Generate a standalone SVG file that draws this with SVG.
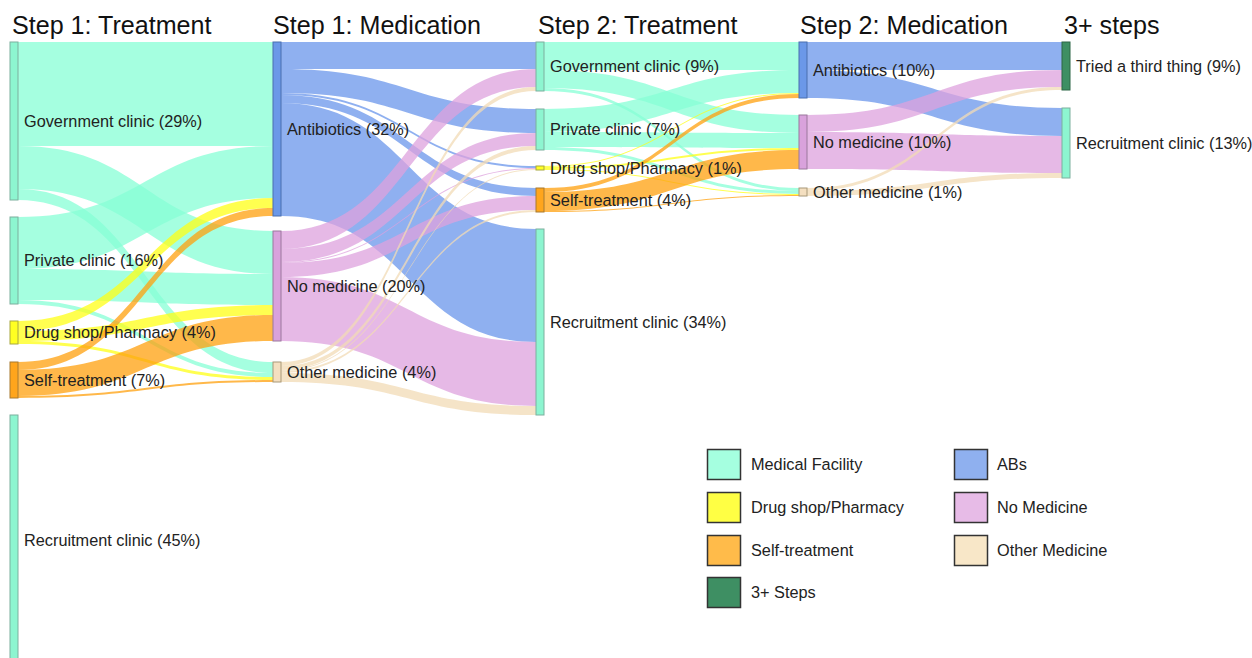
<svg xmlns="http://www.w3.org/2000/svg" width="1252" height="658" viewBox="0 0 1252 658">
<style>
text{font-family:"Liberation Sans",Arial,sans-serif;fill:#222}
.h{font-size:25.1px;fill:#111}
.l{font-size:16.3px}
.lk{fill-opacity:0.75;stroke:none}
.mf{fill:#87FFD6}.dp{fill:#FFFF16}.st{fill:#FFA00E}.ab{fill:#6A96EB}.nm{fill:#DEA2DE}.om{fill:#F2DBB6}
.n{stroke-width:1}
.nmf{fill:#8DF5D0;stroke:#7DAF9E}.ndp{fill:#FFFF22;stroke:#A8A840}.nst{fill:#FFA51C;stroke:#A87A30}
.nab{fill:#6B98E8;stroke:#4A6FAE}.nnm{fill:#D9A2DC;stroke:#9A789C}.nom{fill:#F4DFC0;stroke:#A89878}.n3{fill:#3E8F63;stroke:#2C6647}
.lg{stroke:#333;stroke-width:1.5}
</style>
<rect width="1252" height="658" fill="#fff"/>
<g id="headers">
<text class="h" x="12" y="34">Step 1: Treatment</text>
<text class="h" x="273" y="34">Step 1: Medication</text>
<text class="h" x="538" y="34">Step 2: Treatment</text>
<text class="h" x="800" y="34">Step 2: Medication</text>
<text class="h" x="1064" y="34">3+ steps</text>
</g>
<g id="connectors">
<path class="lk mf" d="M18 42 C145.5 42 145.5 42 273 42 L273 146 C145.5 146 145.5 146 18 146Z"/>
<path class="lk mf" d="M18 146 C145.5 146 145.5 231 273 231 L273 274 C145.5 274 145.5 189 18 189Z"/>
<path class="lk mf" d="M18 189 C145.5 189 145.5 362 273 362 L273 373 C145.5 373 145.5 200 18 200Z"/>
<path class="lk mf" d="M18 217 C145.5 217 145.5 146 273 146 L273 198 C145.5 198 145.5 269 18 269Z"/>
<path class="lk mf" d="M18 269 C145.5 269 145.5 274 273 274 L273 305 C145.5 305 145.5 300 18 300Z"/>
<path class="lk mf" d="M18 300 C145.5 300 145.5 373 273 373 L273 377 C145.5 377 145.5 304 18 304Z"/>
<path class="lk dp" d="M18 321 C145.5 321 145.5 198 273 198 L273 208 C145.5 208 145.5 331 18 331Z"/>
<path class="lk dp" d="M18 331 C145.5 331 145.5 305 273 305 L273 315 C145.5 315 145.5 341 18 341Z"/>
<path class="lk dp" d="M18 341 C145.5 341 145.5 377 273 377 L273 380 C145.5 380 145.5 344 18 344Z"/>
<path class="lk st" d="M18 362 C145.5 362 145.5 208 273 208 L273 216 C145.5 216 145.5 370 18 370Z"/>
<path class="lk st" d="M18 370 C145.5 370 145.5 315 273 315 L273 341 C145.5 341 145.5 396 18 396Z"/>
<path class="lk st" d="M18 396 C145.5 396 145.5 380 273 380 L273 382 C145.5 382 145.5 398 18 398Z"/>

<path class="lk ab" d="M281 42 C408.5 42 408.5 42 536 42 L536 69 C408.5 69 408.5 69 281 69Z"/>
<path class="lk ab" d="M281 69 C408.5 69 408.5 109 536 109 L536 133 C408.5 133 408.5 93 281 93Z"/>
<path class="lk ab" d="M281 93 C408.5 93 408.5 166 536 166 L536 168 C408.5 168 408.5 95 281 95Z"/>
<path class="lk ab" d="M281 95 C408.5 95 408.5 188 536 188 L536 196 C408.5 196 408.5 103 281 103Z"/>
<path class="lk ab" d="M281 103 C408.5 103 408.5 229 536 229 L536 342 C408.5 342 408.5 216 281 216Z"/>
<path class="lk nm" d="M281 231 C408.5 231 408.5 69 536 69 L536 87 C408.5 87 408.5 249 281 249Z"/>
<path class="lk nm" d="M281 249 C408.5 249 408.5 133 536 133 L536 146 C408.5 146 408.5 262 281 262Z"/>
<path class="lk nm" d="M281 262 C408.5 262 408.5 168 536 168 L536 169 C408.5 169 408.5 263 281 263Z"/>
<path class="lk nm" d="M281 263 C408.5 263 408.5 196 536 196 L536 210 C408.5 210 408.5 277 281 277Z"/>
<path class="lk nm" d="M281 277 C408.5 277 408.5 342 536 342 L536 406 C408.5 406 408.5 341 281 341Z"/>
<path class="lk om" d="M281 362 C408.5 362 408.5 87 536 87 L536 91 C408.5 91 408.5 366 281 366Z"/>
<path class="lk om" d="M281 366 C408.5 366 408.5 146 536 146 L536 150 C408.5 150 408.5 370 281 370Z"/>
<path class="lk om" d="M281 370 C408.5 370 408.5 169 536 169 L536 170 C408.5 170 408.5 371 281 371Z"/>
<path class="lk om" d="M281 371 C408.5 371 408.5 210 536 210 L536 212 C408.5 212 408.5 373 281 373Z"/>
<path class="lk om" d="M281 373 C408.5 373 408.5 406 536 406 L536 415 C408.5 415 408.5 382 281 382Z"/>

<path class="lk mf" d="M544 42 C671.5 42 671.5 42 799 42 L799 70 C671.5 70 671.5 70 544 70Z"/>
<path class="lk mf" d="M544 70 C671.5 70 671.5 115 799 115 L799 133 C671.5 133 671.5 88 544 88Z"/>
<path class="lk mf" d="M544 88 C671.5 88 671.5 188 799 188 L799 191 C671.5 191 671.5 91 544 91Z"/>
<path class="lk mf" d="M544 109 C671.5 109 671.5 70 799 70 L799 93 C671.5 93 671.5 132 544 132Z"/>
<path class="lk mf" d="M544 132 C671.5 132 671.5 133 799 133 L799 148 C671.5 148 671.5 147 544 147Z"/>
<path class="lk mf" d="M544 147 C671.5 147 671.5 191 799 191 L799 194 C671.5 194 671.5 150 544 150Z"/>
<path class="lk dp" d="M544 166 C671.5 166 671.5 93 799 93 L799 94 C671.5 94 671.5 167 544 167Z"/>
<path class="lk dp" d="M544 167 C671.5 167 671.5 148 799 148 L799 150 C671.5 150 671.5 169 544 169Z"/>
<path class="lk dp" d="M544 169 C671.5 169 671.5 194 799 194 L799 195 C671.5 195 671.5 170 544 170Z"/>
<path class="lk st" d="M544 188 C671.5 188 671.5 94 799 94 L799 98 C671.5 98 671.5 192 544 192Z"/>
<path class="lk st" d="M544 192 C671.5 192 671.5 150 799 150 L799 169 C671.5 169 671.5 211 544 211Z"/>
<path class="lk st" d="M544 211 C671.5 211 671.5 195 799 195 L799 196 C671.5 196 671.5 212 544 212Z"/>

<path class="lk ab" d="M807 42 C934.5 42 934.5 42 1062 42 L1062 70 C934.5 70 934.5 70 807 70Z"/>
<path class="lk ab" d="M807 70 C934.5 70 934.5 108 1062 108 L1062 136 C934.5 136 934.5 98 807 98Z"/>
<path class="lk nm" d="M807 115 C934.5 115 934.5 70 1062 70 L1062 87 C934.5 87 934.5 132 807 132Z"/>
<path class="lk nm" d="M807 132 C934.5 132 934.5 136 1062 136 L1062 173 C934.5 173 934.5 169 807 169Z"/>
<path class="lk om" d="M807 188 C934.5 188 934.5 87 1062 87 L1062 90 C934.5 90 934.5 191 807 191Z"/>
<path class="lk om" d="M807 191 C934.5 191 934.5 173 1062 173 L1062 178 C934.5 178 934.5 196 807 196Z"/>
</g>
<g id="s1-gov"><rect class="n nmf" x="10" y="42" width="8" height="158"/><text class="l" x="24" y="126.5">Government clinic (29%)</text></g>
<g id="s1-priv"><rect class="n nmf" x="10" y="217" width="8" height="87"/><text class="l" x="24" y="266">Private clinic (16%)</text></g>
<g id="s1-drug"><rect class="n ndp" x="10" y="321" width="8" height="23"/><text class="l" x="24" y="338">Drug shop/Pharmacy (4%)</text></g>
<g id="s1-self"><rect class="n nst" x="10" y="362" width="8" height="36"/><text class="l" x="24" y="385.5">Self-treatment (7%)</text></g>
<g id="s1-rec"><rect class="n nmf" x="10" y="415" width="8" height="250"/><text class="l" x="24" y="545.5">Recruitment clinic (45%)</text></g>

<g id="m1-ab"><rect class="n nab" x="273" y="42" width="8" height="174"/><text class="l" x="287" y="134.5">Antibiotics (32%)</text></g>
<g id="m1-nm"><rect class="n nnm" x="273" y="231" width="8" height="110"/><text class="l" x="287" y="291.5">No medicine (20%)</text></g>
<g id="m1-om"><rect class="n nom" x="273" y="362" width="8" height="20"/><text class="l" x="287" y="377.5">Other medicine (4%)</text></g>

<g id="s2-gov"><rect class="n nmf" x="536" y="42" width="8" height="49"/><text class="l" x="550" y="72">Government clinic (9%)</text></g>
<g id="s2-priv"><rect class="n nmf" x="536" y="109" width="8" height="41"/><text class="l" x="550" y="135">Private clinic (7%)</text></g>
<g id="s2-drug"><rect class="n ndp" x="536" y="166" width="8" height="4"/><text class="l" x="550" y="174">Drug shop/Pharmacy (1%)</text></g>
<g id="s2-self"><rect class="n nst" x="536" y="188" width="8" height="24"/><text class="l" x="550" y="205.5">Self-treatment (4%)</text></g>
<g id="s2-rec"><rect class="n nmf" x="536" y="229" width="8" height="186"/><text class="l" x="550" y="327.5">Recruitment clinic (34%)</text></g>

<g id="m2-ab"><rect class="n nab" x="799" y="42" width="8" height="56"/><text class="l" x="813" y="75.5">Antibiotics (10%)</text></g>
<g id="m2-nm"><rect class="n nnm" x="799" y="115" width="8" height="54"/><text class="l" x="813" y="147.5">No medicine (10%)</text></g>
<g id="m2-om"><rect class="n nom" x="799" y="188" width="8" height="8"/><text class="l" x="813" y="197.5">Other medicine (1%)</text></g>

<g id="s3-tried"><rect class="n n3" x="1062" y="42" width="8" height="48"/><text class="l" x="1076" y="71.5">Tried a third thing (9%)</text></g>
<g id="s3-rec"><rect class="n nmf" x="1062" y="108" width="8" height="70"/><text class="l" x="1076" y="148.5">Recruitment clinic (13%)</text></g>

<g id="legend">
<rect class="lg" x="707.5" y="449.5" width="33" height="30" fill="#A5FFE0"/><text class="l" x="751" y="470">Medical Facility</text>
<rect class="lg" x="707.5" y="492.5" width="33" height="30" fill="#FFFF44"/><text class="l" x="751" y="513">Drug shop/Pharmacy</text>
<rect class="lg" x="707.5" y="535.5" width="33" height="30" fill="#FFBB4A"/><text class="l" x="751" y="556">Self-treatment</text>
<rect class="lg" x="707.5" y="577.5" width="33" height="30" fill="#3E8F63"/><text class="l" x="751" y="598">3+ Steps</text>
<rect class="lg" x="954.5" y="449.5" width="33" height="30" fill="#8FB0EF"/><text class="l" x="997" y="470">ABs</text>
<rect class="lg" x="954.5" y="492.5" width="33" height="30" fill="#E7BBE7"/><text class="l" x="997" y="513">No Medicine</text>
<rect class="lg" x="954.5" y="535.5" width="33" height="30" fill="#F8E7C8"/><text class="l" x="997" y="556">Other Medicine</text>
</g>
</svg>
